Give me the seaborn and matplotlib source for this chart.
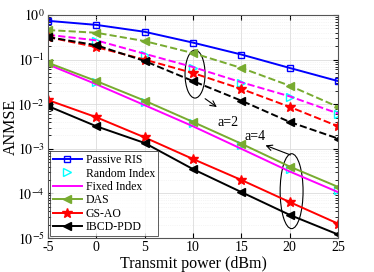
import numpy as np
import pandas as pd
import matplotlib
matplotlib.use("Agg")
import matplotlib.pyplot as plt
import seaborn as sns
from matplotlib.patches import Ellipse

power = [-5, 0, 5, 10, 15, 20, 25]

passive_ris = [0.74, 0.60, 0.42, 0.24, 0.13, 0.065, 0.033]

# a = 2 (dashed)
das_a2 = [0.46, 0.40, 0.26, 0.14, 0.065, 0.026, 0.0087]
random_a2 = [0.34, 0.26, 0.13, 0.065, 0.030, 0.0145, 0.0060]
fixed_a2 = [0.36, 0.27, 0.135, 0.068, 0.031, 0.015, 0.0062]
gsao_a2 = [0.32, 0.19, 0.10, 0.050, 0.022, 0.0087, 0.0032]
ibcd_a2 = [0.32, 0.21, 0.093, 0.033, 0.012, 0.0040, 0.0017]

# a = 4 (solid)
das_a4 = [0.085, 0.033, 0.012, 0.0040, 0.0013, 0.00040, 0.00014]
random_a4 = [0.082, 0.031, 0.011, 0.0037, 0.0012, 0.00036, 0.00012]
fixed_a4 = [0.078, 0.028, 0.0095, 0.0032, 0.0010, 0.00031, 0.000107]
gsao_a4 = [0.0124, 0.0051, 0.0018, 0.00059, 0.00020, 0.000064, 0.000021]
ibcd_a4 = [0.0091, 0.0032, 0.00135, 0.00035, 0.000107, 0.000033, 0.000012]

plt.rcParams['font.family'] = ['Liberation Serif', 'DejaVu Serif']
plt.rcParams['mathtext.fontset'] = 'stix'

fig = plt.figure(figsize=(3.74, 2.72), dpi=100)
ax = fig.add_axes([48/374, 1-238/272, 290/374, 223/272])

green = (0.47, 0.67, 0.19)
cyan = (0.0, 1.0, 1.0)

def draw(y, color, ls, marker, label=None, mfc=None, ms=5, lw=1.4, line=True):
    df = pd.DataFrame({"x": power, "y": y})
    sns.lineplot(data=df, x="x", y="y", ax=ax, color=color,
                 linestyle=ls if line else 'none', lw=lw if line else 0,
                 marker=marker, markersize=ms,
                 markerfacecolor=mfc if mfc is not None else color,
                 markeredgecolor=color, markeredgewidth=1.0,
                 label=label, dashes=(3.5, 2.2) if ls == '--' else '')

# solid a=4 series and legend entries
draw(passive_ris, 'blue', '-', 's', 'Passive RIS', mfc='none', ms=4.5)
draw(random_a4, cyan, '-', '>', 'Random Index', mfc='none', ms=5.5, line=False)
draw(fixed_a4, 'magenta', '-', None, 'Fixed Index')
draw(das_a4, green, '-', '<', 'DAS', ms=6)
draw(gsao_a4, 'red', '-', '*', 'GS-AO', ms=7.5)
draw(ibcd_a4, 'black', '-', '<', 'IBCD-PDD', ms=5.5)

# dashed a=2 series
draw(random_a2, cyan, '--', '>', mfc='none', ms=5.5, line=False)
draw(fixed_a2, 'magenta', '--', None)
draw(das_a2, green, '--', '<', ms=6)
draw(gsao_a2, 'red', '--', '*', ms=7.5)
draw(ibcd_a2, 'black', '--', '<', ms=5.5)

ax.set_yscale('log')
ax.set_xlim(-5, 25)
ax.set_ylim(1e-5, 1)
ax.set_xticks(power)
ax.set_xticklabels([str(p) for p in power])
ax.set_yticks([1e-5, 1e-4, 1e-3, 1e-2, 1e-1, 1e0])
ax.set_yticklabels([r'$10^{-5}$', r'$10^{-4}$', r'$10^{-3}$', r'$10^{-2}$', r'$10^{-1}$', r'$10^{0}$'])
ax.tick_params(which='both', direction='in', top=True, right=True, labelsize=10)
ax.tick_params(which='major', length=3.5, pad=2.5)
ax.tick_params(which='minor', length=2)
ax.grid(True, which='major', color='#dcdcdc', lw=0.6)
ax.grid(True, which='minor', color='#ececec', lw=0.5, ls=':')
ax.set_axisbelow(True)
for s in ax.spines.values():
    s.set_color('#555555')
    s.set_linewidth(0.8)

ax.set_xlabel('Transmit power (dBm)', fontsize=11.5, labelpad=1)
ax.set_ylabel('ANMSE', fontsize=11.5)
ax.yaxis.set_label_coords(-0.1, 0.5)

leg = ax.legend(loc='lower left', fontsize=8.5, frameon=True, fancybox=False,
                edgecolor='#333333', borderpad=0.25, labelspacing=0.12,
                handlelength=2.5, handletextpad=0.3, borderaxespad=0.15)
leg.get_frame().set_linewidth(0.7)

ax.add_patch(Ellipse((0.507, 0.735), 0.069, 0.215, transform=ax.transAxes,
                     fill=False, ec='black', lw=0.8))
ax.add_patch(Ellipse((0.84, 0.21), 0.079, 0.336, transform=ax.transAxes,
                     fill=False, ec='black', lw=0.8))
ax.annotate('', xy=(0.59, 0.58), xytext=(0.534, 0.632), xycoords='axes fraction',
            arrowprops=dict(arrowstyle='->', lw=0.8, color='black'))
ax.text(0.62, 0.52, 'a=2', transform=ax.transAxes, fontsize=10, ha='center', va='center')
ax.annotate('', xy=(0.741, 0.42), xytext=(0.845, 0.368), xycoords='axes fraction',
            arrowprops=dict(arrowstyle='->', lw=0.8, color='black'))
ax.text(0.714, 0.457, 'a=4', transform=ax.transAxes, fontsize=10, ha='center', va='center')

fig.savefig('out.png', dpi=100)
